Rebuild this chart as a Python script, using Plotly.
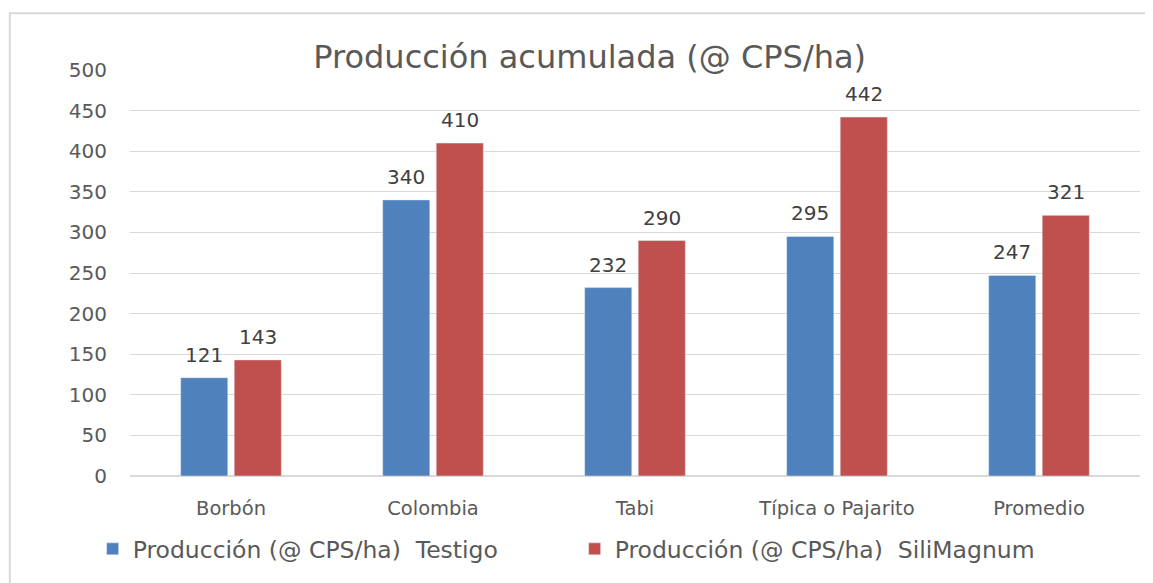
import plotly.graph_objs as go

categories = ['Borbón', 'Colombia', 'Tabi', 'Típica o Pajarito', 'Promedio']
testigo = [121, 340, 232, 295, 247]
silimagnum = [143, 410, 290, 442, 321]
y_ticks = list(range(0, 501, 50))

font_family = "DejaVu Sans, Open Sans, sans-serif"
grey = "#595959"

fig = go.Figure()
fig.add_trace(go.Bar(x=categories, y=testigo,
                     name='Producción (@ CPS/ha)  Testigo',
                     marker=dict(color='#4F81BD')))
fig.add_trace(go.Bar(x=categories, y=silimagnum,
                     name='Producción (@ CPS/ha)  SiliMagnum',
                     marker=dict(color='#C0504D')))

# value labels sitting a little above each bar
annotations = []
for vals, shift in ((testigo, -27), (silimagnum, 27)):
    for cat, v in zip(categories, vals):
        annotations.append(dict(x=cat, y=v, text=str(v), showarrow=False,
                                xshift=shift, yshift=9, yanchor='bottom',
                                font=dict(size=20, color='#404040')))

# page body has an 8px margin, so the figure is sized/shifted to compensate
fig.update_layout(
    width=1145, height=575,
    plot_bgcolor='white', paper_bgcolor='white',
    font=dict(family=font_family, size=17, color=grey),
    margin=dict(l=122, r=13, t=62, b=99),
    bargap=0.47, bargroupgap=0.12,
    annotations=annotations,
    title=dict(text='Producción acumulada (@ CPS/ha)', x=0.508, xanchor='center',
               y=0.915, yanchor='middle', font=dict(size=32, color=grey)),
    yaxis=dict(range=[0, 500], tickvals=y_ticks, showgrid=True, gridcolor='#d9d9d9',
               zeroline=True, zerolinecolor='#d9d9d9', ticklabelstandoff=22,
               tickfont=dict(size=20, color=grey)),
    xaxis=dict(showline=False, ticks='', ticklabelstandoff=18,
               tickfont=dict(size=19.5, color=grey)),
    legend=dict(orientation='h', x=-0.037, xanchor='left', y=-0.18, yanchor='middle',
                font=dict(size=23.5, color=grey), entrywidth=437, itemwidth=30,
                traceorder='normal'),
    shapes=[dict(type='rect', xref='paper', yref='paper', layer='below',
                 x0=-0.119, x1=1.1, y0=-0.5, y1=1.14,
                 line=dict(color='#d9d9d9', width=2))],
)

fig.write_html("out.html")
